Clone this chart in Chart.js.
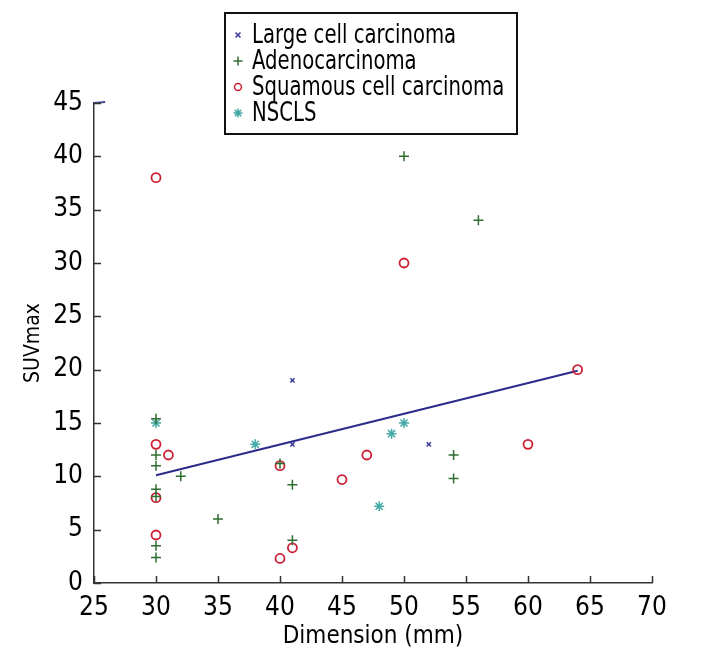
<!DOCTYPE html>
<html>
<head>
<meta charset="utf-8">
<script src="https://cdn.jsdelivr.net/npm/chart.js@4/dist/chart.umd.min.js"></script>
<style>
  html, body { margin: 0; padding: 0; background: #fff; }
  #wrap { width: 720px; height: 672px; }
</style>
</head>
<body>
<div id="wrap"><canvas id="chart" width="720" height="672"></canvas></div>
<script>
// ========== DATA ==========
const xTicks = [25, 30, 35, 40, 45, 50, 55, 60, 65, 70];
const yTicks = [0, 5, 10, 15, 20, 25, 30, 35, 40, 45];

const seriesNames = ["Large cell carcinoma", "Adenocarcinoma", "Squamous cell carcinoma", "NSCLS"];

const largeX = [41, 41, 52];
const largeY = [19, 13, 13];

const adenoX = [30, 30, 30, 30, 30, 30, 30, 32, 35, 40, 41, 41, 50, 54, 54, 56];
const adenoY = [15.4, 12, 11, 8.8, 8.1, 3.5, 2.4, 10, 6, 11.2, 9.2, 4, 40, 12, 9.8, 34];

const squamX = [30, 30, 31, 30, 30, 40, 41, 40, 45, 47, 50, 60, 64];
const squamY = [38, 13, 12, 8, 4.5, 11, 3.3, 2.3, 9.7, 12, 30, 13, 20];

const nsclsX = [30, 38, 48, 49, 50];
const nsclsY = [15, 13, 7.2, 14, 15];

// fitted line (end points)
const fitX = [30, 64];
const fitY = [10.1, 19.9];

// little stray stroke at the top left corner
const strayX = [25, 25.9];
const strayY = [45, 45.1];

const FONT = "'Liberation Sans Narrow', 'DejaVu Sans Condensed', 'Arial Narrow', sans-serif";

function toPoints(xs, ys) {
    return xs.map((x, i) => ({ x: x, y: ys[i] }));
}

// ========== PLUGINS ==========
// ticks drawn inward, like the original figure
const inwardTicks = {
    id: "inwardTicks",
    afterDatasetsDraw(chart) {
        const ctx = chart.ctx;
        const xs = chart.scales.x;
        const ys = chart.scales.y;
        const area = chart.chartArea;
        ctx.save();
        ctx.strokeStyle = "#333";
        ctx.lineWidth = 1.5;
        ctx.beginPath();
        xTicks.forEach(v => {
            const px = Math.round(xs.getPixelForValue(v)) + 0.5;
            ctx.moveTo(px, area.bottom);
            ctx.lineTo(px, area.bottom - 7);
        });
        yTicks.forEach(v => {
            const py = Math.round(ys.getPixelForValue(v)) + 0.5;
            ctx.moveTo(area.left, py);
            ctx.lineTo(area.left + 7, py);
        });
        ctx.stroke();
        ctx.restore();
    }
};

function drawMarker(ctx, style, x, y, r, color) {
    ctx.save();
    ctx.strokeStyle = color;
    ctx.lineWidth = 1.5;
    ctx.beginPath();
    if (style === "crossRot") {
        ctx.moveTo(x - r, y - r); ctx.lineTo(x + r, y + r);
        ctx.moveTo(x - r, y + r); ctx.lineTo(x + r, y - r);
    } else if (style === "cross") {
        ctx.moveTo(x - r, y); ctx.lineTo(x + r, y);
        ctx.moveTo(x, y - r); ctx.lineTo(x, y + r);
    } else if (style === "circle") {
        ctx.arc(x, y, r, 0, Math.PI * 2);
    } else if (style === "star") {
        ctx.moveTo(x - r, y); ctx.lineTo(x + r, y);
        ctx.moveTo(x, y - r); ctx.lineTo(x, y + r);
        const d = r * 0.7;
        ctx.moveTo(x - d, y - d); ctx.lineTo(x + d, y + d);
        ctx.moveTo(x - d, y + d); ctx.lineTo(x + d, y - d);
    }
    ctx.stroke();
    ctx.restore();
}

// boxed legend sitting over the top of the plot
const boxLegend = {
    id: "boxLegend",
    afterDraw(chart) {
        const ctx = chart.ctx;
        const left = 225, top = 13, width = 292, height = 121;
        ctx.save();
        ctx.fillStyle = "#fff";
        ctx.fillRect(left, top, width, height);
        ctx.strokeStyle = "#111";
        ctx.lineWidth = 2;
        ctx.strokeRect(left, top, width, height);
        ctx.font = "27px " + FONT;
        ctx.textBaseline = "middle";
        ctx.fillStyle = "#000";
        chart.data.datasets.slice(0, 4).forEach((ds, i) => {
            const cy = top + 22 + i * 26;
            drawMarker(ctx, ds.pointStyle, left + 13, cy, ds.legendRadius, ds.borderColor);
            // squeeze the text to look like the narrow face of the original
            ctx.save();
            ctx.translate(left + 27, cy + 1);
            ctx.scale(0.81, 1);
            ctx.fillText(ds.label, 0, 0);
            ctx.restore();
        });
        ctx.restore();
    }
};

// ========== CHART ==========
const ctx = document.getElementById("chart").getContext("2d");

const chart = new Chart(ctx, {
    type: "scatter",
    data: {
        datasets: [{
                label: seriesNames[0],
                data: toPoints(largeX, largeY),
                pointStyle: "crossRot",
                pointRadius: 3,
                legendRadius: 2.5,
                borderColor: "#3a3a9c",
                backgroundColor: "#3a3a9c",
                pointBorderWidth: 1.5
            },
            {
                label: seriesNames[1],
                data: toPoints(adenoX, adenoY),
                pointStyle: "cross",
                pointRadius: 5,
                legendRadius: 4.5,
                borderColor: "#2f6e30",
                backgroundColor: "#2f6e30",
                pointBorderWidth: 1.5
            },
            {
                label: seriesNames[2],
                data: toPoints(squamX, squamY),
                pointStyle: "circle",
                pointRadius: 4.5,
                legendRadius: 3.5,
                borderColor: "#cc1f35",
                backgroundColor: "rgba(0,0,0,0)",
                pointBorderWidth: 1.8
            },
            {
                label: seriesNames[3],
                data: toPoints(nsclsX, nsclsY),
                pointStyle: "star",
                pointRadius: 5,
                legendRadius: 4.5,
                borderColor: "#45a9a6",
                backgroundColor: "#45a9a6",
                pointBorderWidth: 1.5
            },
            {
                label: "fit",
                data: toPoints(fitX, fitY),
                showLine: true,
                pointRadius: 0,
                borderColor: "#2b2b8a",
                borderWidth: 2
            },
            {
                label: "stray",
                data: toPoints(strayX, strayY),
                showLine: true,
                pointRadius: 0,
                borderColor: "#3c4c8c",
                borderWidth: 2,
                clip: false
            }
        ]
    },
    options: {
        responsive: false,
        animation: false,
        devicePixelRatio: 1,
        layout: { padding: { left: 0, top: 103, right: 68, bottom: 0 } },
        plugins: {
            legend: { display: false },
            tooltip: { enabled: false }
        },
        scales: {
            x: {
                type: "linear",
                min: 25,
                max: 70,
                afterBuildTicks: s => { s.ticks = xTicks.map(v => ({ value: v })); },
                afterFit: s => { s.height = 89; },
                grid: { display: false, drawTicks: false },
                border: { display: true, color: "#333", width: 1.5 },
                ticks: { color: "#000", padding: 10, font: { family: FONT, size: 26 } },
                title: {
                    display: true,
                    text: "Dimension (mm)",
                    color: "#000",
                    font: { family: FONT, size: 24 },
                    padding: { top: 0, bottom: 21 }
                }
            },
            y: {
                type: "linear",
                min: 0,
                max: 45,
                afterBuildTicks: s => { s.ticks = yTicks.map(v => ({ value: v })); },
                afterFit: s => { s.width = 94; },
                grid: { display: false, drawTicks: false },
                border: { display: true, color: "#333", width: 1.5 },
                ticks: { color: "#000", padding: 11, font: { family: FONT, size: 26 } },
                title: {
                    display: true,
                    text: "SUVmax",
                    color: "#000",
                    font: { family: FONT, size: 21 },
                    padding: { top: 21, bottom: 0 }
                }
            }
        }
    },
    plugins: [inwardTicks, boxLegend]
});
</script>
</body>
</html>
